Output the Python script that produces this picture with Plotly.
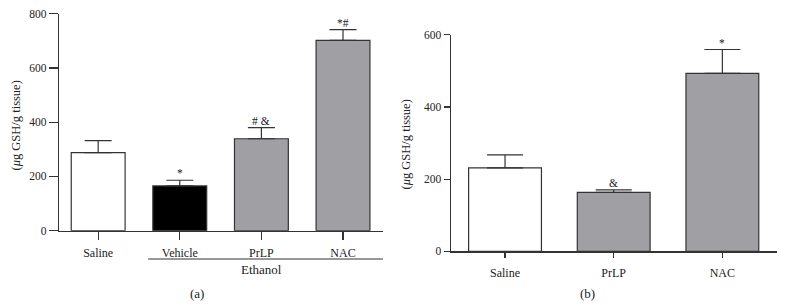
import plotly.graph_objects as go

# Panel (a)
cats_a = ["Saline", "Vehicle", "PrLP", "NAC"]
vals_a = [288, 165, 339, 702]
errs_a = [44, 21, 41, 39]
sig_a = ["", "*", "# &", "*#"]
colors_a = ["#ffffff", "#000000", "#a0a0a4", "#a0a0a4"]

# Panel (b)
cats_b = ["Saline", "PrLP", "NAC"]
vals_b = [231, 163, 493]
errs_b = [36, 7, 66]
sig_b = ["", "&", "*"]
colors_b = ["#ffffff", "#a0a0a4", "#a0a0a4"]

ytitle = "(<i>μ</i>g GSH/g tissue)"
FONT = "Liberation Serif, Times New Roman, serif"
AX = "#333333"

W, H = 785, 305


def px(X):
    return X / W


def py(Y):
    return (H - Y) / H


fig = go.Figure()
fig.add_trace(go.Bar(
    x=cats_a, y=vals_a, width=0.66, xaxis="x", yaxis="y", hoverinfo="skip",
    marker=dict(color=colors_a, line=dict(color=AX, width=1.2)),
    error_y=dict(type="data", array=errs_a, arrayminus=[0]*len(errs_a),
                 symmetric=False, color=AX, thickness=1.2, width=13.5),
    showlegend=False))
fig.add_trace(go.Bar(
    x=cats_b, y=vals_b, width=0.67, xaxis="x2", yaxis="y2", hoverinfo="skip",
    marker=dict(color=colors_b, line=dict(color=AX, width=1.2)),
    error_y=dict(type="data", array=errs_b, arrayminus=[0]*len(errs_b),
                 symmetric=False, color=AX, thickness=1.2, width=18),
    showlegend=False))


def axis(ticklen, size, standoff=0):
    d = dict(showline=True, linecolor=AX, linewidth=1.2, ticks="outside",
             ticklen=ticklen, tickcolor=AX, tickwidth=1.2, showgrid=False,
             zeroline=False, automargin=False, fixedrange=True,
             tickfont=dict(family=FONT, size=size, color="#222"))
    if standoff:
        d["ticklabelstandoff"] = standoff
    return d


fig.update_layout(
    width=W, height=H, margin=dict(l=0, r=0, t=0, b=0, autoexpand=False),
    paper_bgcolor="white", plot_bgcolor="white", bargap=0,
    font=dict(family=FONT, size=12, color="#222"),
    xaxis=dict(domain=[px(59), px(383)], range=[-0.48, 3.49], anchor="y",
               **axis(8, 12, 3)),
    yaxis=dict(domain=[py(230.7), py(13.7)], range=[0, 800], tickvals=[0, 200, 400, 600, 800],
               anchor="x", **axis(9, 11.5)),
    xaxis2=dict(domain=[px(450.7), px(776.7)], range=[-0.5, 2.5], anchor="y2",
                **axis(5, 12, 5)),
    yaxis2=dict(domain=[py(251.3), py(34.7)], range=[0, 600], tickvals=[0, 200, 400, 600],
                anchor="x2", **axis(6, 11.5)),
)

ann = []
for c, v, e, s in zip(cats_a, vals_a, errs_a, sig_a):
    if s:
        ann.append(dict(x=c, y=v + e, xref="x", yref="y", text=s, showarrow=False,
                        xanchor="center", yanchor="bottom", yshift=-1,
                        font=dict(family=FONT, size=11.5)))
for c, v, e, s in zip(cats_b, vals_b, errs_b, sig_b):
    if s:
        ann.append(dict(x=c, y=v + e, xref="x2", yref="y2", text=s, showarrow=False,
                        xanchor="center", yanchor="bottom", yshift=-1,
                        font=dict(family=FONT, size=11.5)))

ann += [
    dict(x=px(15), y=py(125.5), xref="paper", yref="paper", text=ytitle,
         textangle=-90, font=dict(family=FONT, size=12.5)),
    dict(x=px(405), y=py(144.5), xref="paper", yref="paper", text=ytitle,
         textangle=-90, font=dict(family=FONT, size=12.5)),
    dict(x=2.0, y=py(269), xref="x", yref="paper", text="Ethanol",
         font=dict(family=FONT, size=13)),
    dict(x=px(197), y=py(293), xref="paper", yref="paper", text="(a)",
         font=dict(family=FONT, size=13)),
    dict(x=px(587), y=py(293), xref="paper", yref="paper", text="(b)",
         font=dict(family=FONT, size=13)),
]
for a in ann[-5:]:
    a.update(showarrow=False, xanchor="center", yanchor="middle")
fig.update_layout(annotations=ann)

fig.add_shape(type="line", xref="x", yref="paper", x0=0.612, x1=3.49,
              y0=py(259), y1=py(259),
              line=dict(color=AX, width=1.2))

fig.write_html("out.html",
               config={"displayModeBar": False, "staticPlot": True},
               post_script="document.body.style.margin='0px';"
                           "document.body.style.overflow='hidden';")
